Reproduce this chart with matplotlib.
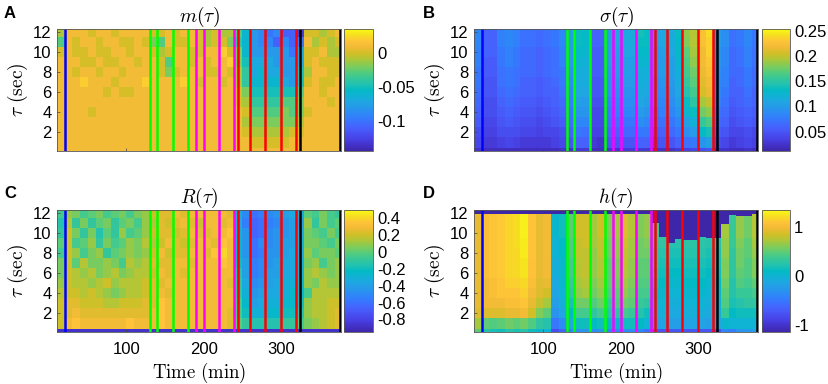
"""plot.py - four parula heatmaps of m, sigma, R and h against time and tau."""
import numpy as np
import matplotlib
matplotlib.use("Agg")
import matplotlib.pyplot as plt
from matplotlib.colors import LinearSegmentedColormap, Normalize

plt.rcParams["font.family"] = ["Liberation Sans", "DejaVu Sans"]
plt.rcParams["mathtext.fontset"] = "cm"
plt.rcParams["axes.unicode_minus"] = False

PARULA = [
    (0.2422, 0.1504, 0.6603), (0.2647, 0.1978, 0.7952), (0.2783, 0.2559, 0.8991),
    (0.2810, 0.3228, 0.9579), (0.2699, 0.3892, 0.9906), (0.2206, 0.4603, 0.9973),
    (0.1786, 0.5289, 0.9682), (0.1540, 0.5902, 0.9218), (0.1248, 0.6459, 0.8883),
    (0.0689, 0.6948, 0.8394), (0.0067, 0.7312, 0.7660), (0.1408, 0.7584, 0.6842),
    (0.2161, 0.7843, 0.5923), (0.3406, 0.8008, 0.4789), (0.5044, 0.7993, 0.3480),
    (0.6720, 0.7793, 0.2227), (0.8203, 0.7498, 0.1535), (0.9393, 0.7288, 0.2100),
    (0.9970, 0.7659, 0.2199), (0.9626, 0.8705, 0.1309), (0.9769, 0.9839, 0.0805),
]
parula = LinearSegmentedColormap.from_list("parula", PARULA)

# column edges in minutes, row edges in seconds
time_edges = np.arange(10, 381, 10)
tau_edges = [0.125, 0.45, 1.5, 2.5, 3.5, 4.5, 5.5, 6.5, 7.5, 8.5, 9.5, 10.5, 11.5, 12.25]

# rows run from tau = 12 (first) to tau = 0.25 (last)
# m, R and h are in hundredths, sigma in thousandths
m_values = [
    [-1,1,1,1,0,1,1,0,1,1, 1,1,0,0,1,0,1,1,0,-1, 0,-1,-1,-3,-6,-8,-9,-10,-9,-11, -11,-13,0,0,-1,0,1],
    [-3,1,0,1,1,0,1,1,0,0, 1,0,-2,-3,1,0,0,1,0,-1, 0,0,-2,-4,-6,-8,-9,-9,-11,-9, -11,-10,1,-1,0,-1,0],
    [0,1,0,0,1,0,0,1,1,0, 1,1,0,-1,0,1,1,0,0,1, 1,2,0,-2,-6,-8,-8,-8,-8,-8, -10,-7,0,0,1,-1,-1],
    [1,1,1,0,0,1,0,0,1,1, 0,1,1,0,-3,1,1,0,1,0, 1,1,2,-2,-5,-7,-7,-7,-8,-8, -8,-7,0,1,0,0,0],
    [1,1,0,1,1,0,1,1,0,1, 1,1,1,0,-2,0,1,1,1,0, 0,1,0,-1,-4,-7,-6,-7,-7,-8, -8,-5,-1,1,1,0,0],
    [1,1,1,2,1,1,1,0,1,1, 1,2,1,1,1,1,2,1,0,1, 1,0,1,-1,-4,-6,-6,-6,-6,-7, -8,-5,0,1,0,0,1],
    [1,1,1,1,1,1,0,1,0,0, 1,1,1,1,1,1,1,1,1,1, 1,1,1,0,-2,-5,-5,-5,-5,-5, -5,-3,1,1,0,1,1],
    [1,1,1,1,1,1,1,1,1,1, 1,1,1,1,1,1,1,1,1,1, 1,1,1,0,-1,-4,-4,-4,-4,-3, -3,-2,1,1,1,0,1],
    [1,1,1,1,0,1,1,1,1,1, 1,1,1,1,1,1,1,1,1,1, 1,1,1,1,0,-3,-3,-3,-3,-2, -3,-2,0,1,1,1,1],
    [1,1,1,1,1,1,1,1,1,1, 1,1,1,1,1,1,1,1,1,1, 1,1,1,1,-1,-2,-2,-2,-2,-2, -2,-1,1,1,1,1,1],
    [1,1,1,1,1,1,1,1,1,1, 1,1,1,1,1,1,1,1,1,1, 1,1,1,1,0,-1,-1,-1,-1,-1, 0,0,1,1,1,1,1],
    [1,1,1,1,1,1,1,1,1,1, 1,1,1,1,1,1,1,1,1,1, 1,1,1,1,1,0,0,0,0,0, 1,1,1,1,1,1,1],
    [1,1,1,1,1,1,1,1,1,1, 1,1,1,1,1,1,1,1,1,1, 1,1,1,1,1,1,1,1,1,1, 1,1,1,1,1,1,1],
]

sigma_values = [
    [85,60,60,80,85,80,70,70,65,70, 75,85,105,135,130,60,60,105,110,115, 115,140,135,100,110,115,135,185,195,225, 240,100,90,70,75,85,75],
    [85,60,60,80,85,80,70,70,65,70, 75,85,105,135,130,60,60,105,110,115, 115,135,135,100,110,115,130,180,195,225, 235,100,90,70,75,85,75],
    [80,60,60,75,80,75,65,65,60,65, 70,80,100,130,125,55,55,100,105,110, 110,130,130,95,105,110,130,170,190,220, 235,95,85,65,70,80,70],
    [80,55,55,75,80,75,65,65,60,65, 70,80,100,125,120,55,55,100,100,105, 105,125,125,95,100,105,125,165,185,220, 230,95,85,65,70,80,70],
    [75,55,55,70,75,70,65,65,60,65, 70,75,95,120,115,55,55,95,100,105, 105,120,120,90,100,105,120,160,175,215, 225,90,80,65,65,75,65],
    [75,50,50,70,75,70,60,60,55,60, 65,75,90,115,115,50,50,90,95,100, 100,120,115,85,95,100,115,155,170,210, 220,85,80,60,65,75,65],
    [70,50,50,65,70,65,60,60,55,60, 60,70,85,110,110,50,50,90,90,95, 95,115,110,85,90,95,110,145,160,205, 215,85,75,60,60,70,60],
    [65,45,45,60,65,60,55,55,50,55, 60,65,80,105,100,45,45,80,85,90, 90,110,105,80,85,90,105,135,150,190, 200,80,70,55,60,65,60],
    [60,45,45,55,60,55,50,50,45,50, 55,60,75,95,95,40,40,75,80,85, 85,100,95,70,80,85,95,125,135,175, 185,70,65,50,55,60,55],
    [55,40,40,50,55,50,45,45,40,45, 50,55,70,85,85,40,40,70,70,75, 75,90,85,65,70,75,85,105,120,155, 165,65,60,45,50,55,50],
    [45,35,35,45,45,45,40,40,35,40, 40,45,60,75,70,35,35,60,60,65, 65,75,75,55,60,65,75,90,100,130, 140,55,50,40,40,45,40],
    [40,30,30,35,40,35,30,30,30,30, 35,40,50,60,60,30,25,50,50,50, 50,60,60,45,50,50,60,70,75,95, 105,45,40,30,35,40,35],
    [25,20,20,20,20,20,20,20,20,20, 20,25,25,30,30,20,20,25,25,30, 30,30,30,25,25,25,30,35,40,45, 50,25,25,20,20,25,20],
]

r_values = [
    [-5,10,5,-5,0,5,-5,0,5,-5, 5,10,20,25,25,30,25,30,30,30, 30,30,25,-30,-50,-60,-55,-50,-45,-40, -35,-30,0,-5,5,-5,-10],
    [-15,15,-10,5,-10,0,5,-10,0,5, -5,10,15,25,20,25,30,25,20,30, 30,25,30,-35,-55,-65,-60,-55,-50,-45, -40,-40,10,-10,5,-5,0],
    [-10,20,5,-10,5,-15,0,-10,10,-5, 0,10,20,25,25,20,25,30,25,25, 30,30,35,-30,-45,-65,-60,-50,-45,-45, -40,-35,5,0,-5,5,-5],
    [0,20,-5,0,10,-10,5,-5,0,10, 5,15,15,20,30,25,20,25,30,30, 25,35,30,-25,-45,-60,-50,-50,-45,-40, -40,-30,5,5,0,-5,5],
    [-5,20,10,-5,5,10,-10,0,5,10, 5,10,20,30,20,25,25,30,30,25, 35,40,30,-25,-45,-60,-55,-45,-45,-40, -35,-35,10,0,5,5,0],
    [5,20,0,15,5,5,10,5,-5,15, 10,15,25,25,25,30,30,25,30,30, 30,35,30,-20,-40,-55,-50,-45,-40,-35, -35,-30,5,10,-5,5,10],
    [5,20,15,10,15,5,10,15,5,10, 15,15,20,30,25,30,25,30,30,30, 30,30,30,-15,-40,-55,-50,-40,-40,-35, -35,-30,10,15,10,5,10],
    [10,20,15,15,10,15,20,10,15,15, 15,20,25,25,30,30,30,30,30,30, 30,30,25,-10,-35,-50,-45,-40,-35,-30, -30,-25,10,5,15,10,10],
    [15,20,20,15,20,15,10,5,10,15, 15,20,25,30,25,30,30,30,30,30, 30,30,30,-10,-30,-45,-40,-35,-35,-30, -25,-25,-5,15,15,15,15],
    [20,25,25,20,20,20,15,15,20,20, 20,25,25,35,30,30,30,30,30,30, 30,30,30,-5,-25,-40,-35,-30,-30,-25, -25,-20,10,15,15,20,20],
    [20,25,30,25,25,25,25,25,25,25, 25,25,30,35,30,30,30,30,30,30, 30,30,25,-5,-20,-30,-30,-25,-25,-20, -20,-15,10,15,15,20,25],
    [20,30,35,30,30,30,30,30,30,35, 30,30,30,35,30,30,30,30,30,30, 30,30,25,0,-10,-15,-15,-15,-15,-10, -10,-5,5,10,15,20,25],
    [-88,-88,-88,-88,-88,-88,-88,-88,-88,-88, -88,-88,-88,-88,-88,-88,-88,-88,-88,-88, -88,-88,-88,-88,-88,-88,-88,-88,-88,-88, -88,-88,-88,-88,-88,-88,-88],
]

h_values = [
    [95,105,110,112,118,122,130,110,95,100, 5,15,50,85,85,70,85,60,70,90, 75,60,65,35,30,25,25,28,28,28, 25,25,70,35,65,55,75],
    [95,105,110,112,118,122,130,110,95,100, 5,15,50,85,85,70,85,60,70,90, 75,60,65,35,30,25,25,28,28,28, 25,25,70,35,65,55,75],
    [95,105,110,112,118,122,130,110,95,100, 5,15,50,85,85,70,85,60,70,90, 75,60,65,35,30,25,25,28,28,28, 25,25,70,35,65,55,75],
    [95,105,110,112,118,122,128,110,95,100, 0,10,45,80,85,70,80,55,65,85, 70,55,60,30,30,25,25,28,28,28, 25,25,65,35,60,50,70],
    [95,105,110,112,118,120,128,110,95,100, 0,10,45,80,80,65,80,55,65,80, 70,55,55,25,25,20,20,25,25,25, 20,20,65,30,55,50,65],
    [95,105,110,112,118,120,125,108,95,100, -5,5,40,75,80,65,75,50,60,80, 65,50,50,25,20,15,15,20,20,20, 15,20,60,30,55,45,60],
    [95,105,110,112,118,120,125,108,95,100, -5,5,40,75,80,65,75,50,60,75, 65,50,50,20,15,10,10,15,15,15, 10,15,60,30,50,45,60],
    [95,100,105,110,115,115,120,105,92,95, -10,5,35,70,75,60,70,50,55,70, 60,45,45,15,10,5,5,10,10,10, 5,10,55,25,45,40,50],
    [95,100,105,110,110,110,115,100,90,85, -15,0,30,65,70,55,65,45,50,65, 55,40,40,10,5,0,0,5,5,5, 0,5,50,25,35,35,40],
    [95,100,100,100,105,105,110,95,80,70, -20,-5,20,55,55,45,55,35,45,55, 50,35,30,5,0,-5,-5,0,0,0, -5,0,45,20,25,30,30],
    [90,90,90,90,95,95,100,85,60,50, -30,-15,10,40,40,30,40,25,30,40, 35,25,15,-5,-5,-10,-10,-5,-5,-5, -10,-5,35,10,15,15,15],
    [70,50,45,50,55,50,55,45,30,25, -50,-35,-10,15,15,10,15,5,5,15, 15,10,0,-20,-15,-20,-20,-15,-15,-15, -20,-15,5,0,0,0,0],
    [50,25,20,15,25,20,25,15,5,0, -80,-65,-40,-30,-30,-35,-30,-40,-40,-35, -35,-40,-55,-75,-75,-75,-75,-75,-75,-75, -75,-75,-40,-45,-30,-25,-20],
]

# tau above which panel D saturates to the darkest colour, one per column
h_dark_from = [11.85,11.85,11.85,11.85,11.85,11.85,11.85,11.85,11.85,11.85,
               11.85,11.85,11.85,11.85,11.85,11.85,11.85,11.85,11.85,11.85,
               11.85,11.85,11.85,11.0,9.6,9.0,9.4,9.3,9.3,9.6,
               9.5,9.5,10.9,11.75,11.65,11.65,11.85]

blue_times = [20]
green_times = [130, 140, 160, 180]
magenta_times = [190, 200, 220, 240]
red_times = [245, 260, 280, 300, 320]
black_times = [325, 376.5]

x_ticks = [100, 200, 300]
y_ticks = [2, 4, 6, 8, 10, 12]

W, H = 829, 384


def px_axes(fig, left, top, right, bottom):
    """Axes from pixel edges measured from the top left."""
    return fig.add_axes([left / W, 1 - bottom / H, (right - left) / W, (bottom - top) / H])


def draw_panel(fig, box, cbox, values, scale, vmin, vmax, cticks, clabels, title, letter, letter_xy, xlabel=False, dark=None):
    ax = px_axes(fig, *box)
    norm = Normalize(vmin, vmax)
    z = np.array(values, dtype=float)[::-1] * scale
    mesh = ax.pcolormesh(time_edges, tau_edges, z, cmap=parula, norm=norm, rasterized=True)
    if dark is not None:
        centers = (time_edges[:-1] + time_edges[1:]) / 2
        ax.bar(centers, [12.25 - d for d in dark], bottom=dark, width=10, color=parula(0.0))
    for times, color in [(blue_times, "#0000ff"), (green_times, "#00ff00"),
                         (magenta_times, "#ff00ff"), (red_times, "#ff0000"),
                         (black_times, "#000000")]:
        for t in times:
            ax.axvline(t, color=color, lw=1.8)
    ax.set_xlim(10, 378)
    ax.set_ylim(0.125, 12.25)
    ax.set_xticks(x_ticks)
    ax.set_yticks(y_ticks)
    ax.tick_params(direction="in", length=2, width=0.5, color="#444444", labelsize=12,
                   labelbottom=xlabel)
    ax.tick_params(axis="x", pad=7)
    ax.tick_params(axis="y", pad=4)
    for s in ax.spines.values():
        s.set_linewidth(0.6)
        s.set_color("#555555")
    ax.set_title(title, fontsize=14, pad=5)
    ax.set_ylabel(r"$\tau\ \mathrm{(sec)}$", fontsize=14, labelpad=2)
    if xlabel:
        ax.set_xlabel(r"$\mathrm{Time\ (min)}$", fontsize=13.5, labelpad=3)
    fig.text(letter_xy[0] / W, 1 - letter_xy[1] / H, letter, fontsize=12, fontweight="bold",
             va="center", ha="left")

    cax = px_axes(fig, *cbox)
    cb = fig.colorbar(mesh, cax=cax)
    cb.set_ticks(cticks)
    cb.set_ticklabels(clabels)
    cb.ax.tick_params(length=0, labelsize=12, pad=3)
    cb.outline.set_linewidth(0.6)
    cb.outline.set_edgecolor("#555555")


def main():
    fig = plt.figure(figsize=(W / 100, H / 100), dpi=100)
    draw_panel(fig, (57, 29, 341, 151), (344, 29, 373, 151), m_values, 0.01, -0.145, 0.035,
               [0, -0.05, -0.1], ["0", "-0.05", "-0.1"], r"$m(\tau)$", "A", (4, 14))
    draw_panel(fig, (474, 29, 758, 151), (762, 29, 790, 151), sigma_values, 0.001, 0.012, 0.253,
               [0.05, 0.1, 0.15, 0.2, 0.25], ["0.05", "0.1", "0.15", "0.2", "0.25"],
               r"$\sigma(\tau)$", "B", (423, 13))
    draw_panel(fig, (57, 210, 341, 332), (344, 210, 373, 332), r_values, 0.01, -0.95, 0.5,
               [0.4, 0.2, 0, -0.2, -0.4, -0.6, -0.8],
               ["0.4", "0.2", "0", "-0.2", "-0.4", "-0.6", "-0.8"],
               r"$R(\tau)$", "C", (4, 194), xlabel=True)
    draw_panel(fig, (474, 210, 758, 332), (762, 210, 790, 332), h_values, 0.01, -1.14, 1.35,
               [1, 0, -1], ["1", "0", "-1"], r"$h(\tau)$", "D", (423, 194), xlabel=True,
               dark=h_dark_from)
    fig.savefig("out.png", dpi=100)
    plt.close(fig)


if __name__ == "__main__":
    main()
